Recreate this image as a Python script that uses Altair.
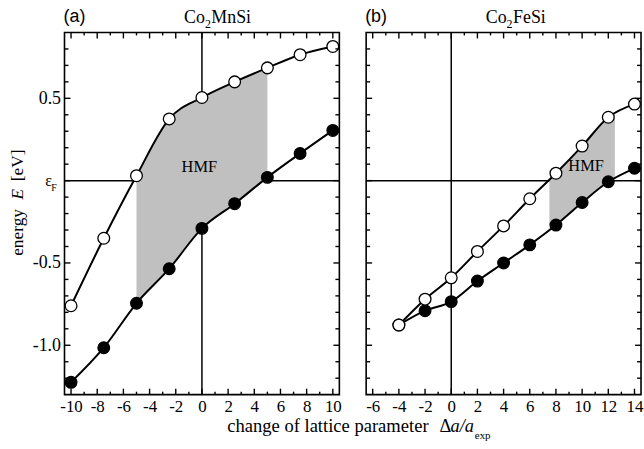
import altair as alt
import pandas as pd

SERIF = "Liberation Serif"
SANS = "Liberation Sans"

# ---------------- Co2MnSi ----------------
mn_da = [-10, -7.5, -5, -2.5, 0, 2.5, 5, 7.5, 10]
mn_open = [-0.76, -0.35, 0.03, 0.375, 0.505, 0.60, 0.685, 0.765, 0.815]
mn_filled = [-1.225, -1.015, -0.745, -0.535, -0.29, -0.14, 0.02, 0.165, 0.305]
# half-metallic window: -5 % ... +5 %
mn_hmf_da = mn_da[2:7]
mn_hmf_top = mn_open[2:7]
mn_hmf_bottom = mn_filled[2:7]

# ---------------- Co2FeSi ----------------
fe_da = [-4, -2, 0, 2, 4, 6, 8, 10, 12, 14]
fe_open = [-0.877, -0.72, -0.59, -0.43, -0.275, -0.11, 0.045, 0.21, 0.385, 0.465]
fe_filled = [-0.877, -0.79, -0.735, -0.61, -0.50, -0.39, -0.27, -0.133, -0.007, 0.075]
# half-metallic window: 7.5 % ... 12.5 %
fe_hmf_da = [7.5, 8, 10, 12, 12.5]
fe_hmf_top = [0.005, 0.045, 0.21, 0.385, 0.405]
fe_hmf_bottom = [-0.30, -0.27, -0.133, -0.007, 0.013]

# ---------------- axes ----------------
mn_xdomain = [-10.5, 10.5]
fe_xdomain = [-6.5, 14.5]
ydomain = [-1.3, 0.9]
mn_xmajor = [-10, -8, -6, -4, -2, 0, 2, 4, 6, 8, 10]
mn_xminor = [-9, -7, -5, -3, -1, 1, 3, 5, 7, 9]
fe_xmajor = [-6, -4, -2, 0, 2, 4, 6, 8, 10, 12, 14]
fe_xminor = [-5, -3, -1, 1, 3, 5, 7, 9, 11, 13]
ymajor = [-1.0, -0.5, 0.0, 0.5]
yminor = [-1.2, -1.1, -0.9, -0.8, -0.7, -0.6, -0.4, -0.3, -0.2, -0.1,
          0.1, 0.2, 0.3, 0.4, 0.6, 0.7, 0.8]
ylabel_values = [-1.0, -0.5, 0.5]

W, H = 277, 365
GAP = 27
LINE_W = 2.0
TICK_W = 1.4


def panel(da, e_open, e_filled, hmf_da, hmf_top, hmf_bot, xdomain, xmajor, xminor,
          tag, title_parts, hmf_xy, with_ylabels):
    xs = alt.Scale(domain=xdomain, nice=False, zero=False)
    ys = alt.Scale(domain=ydomain, nice=False, zero=False)
    xaxis = alt.Axis(values=xmajor,
                     labelExpr="datum.value < 0 ? '-' + abs(datum.value) : '' + datum.value",
                     ticks=False, domain=False, grid=False, labelFont=SERIF,
                     labelFontSize=17, labelColor="black", labelPadding=4,
                     labelFlush=False, labelOverlap=False)
    if with_ylabels:
        yaxis = alt.Axis(values=ylabel_values,
                         labelExpr="datum.value < 0 ? '-' + format(-datum.value, '.1f') : format(datum.value, '.1f')",
                         ticks=False, domain=False, grid=False, labelFont=SERIF,
                         labelFontSize=18, labelColor="black", labelPadding=4)
    else:
        yaxis = None

    def X(field):
        return alt.X(field, type="quantitative", scale=xs, axis=xaxis, title=None)

    def Y(field):
        return alt.Y(field, type="quantitative", scale=ys, axis=yaxis, title=None)

    curves = pd.DataFrame({"da": da, "open": e_open, "filled": e_filled})
    hmf = pd.DataFrame({"da": hmf_da, "top": hmf_top, "bot": hmf_bot})
    zero = pd.DataFrame({"v": [0.0]})

    layers = []
    # reference lines at Δa = 0 and at the Fermi energy
    layers.append(alt.Chart(zero).mark_rule(color="black", strokeWidth=1.5).encode(x=X("v")))
    layers.append(alt.Chart(zero).mark_rule(color="black", strokeWidth=1.5).encode(y=Y("v")))
    # half-metallic region
    layers.append(alt.Chart(hmf).mark_area(color="#c0c0c0", opacity=1, interpolate="monotone")
                  .encode(x=X("da"), y=Y("top"), y2="bot"))
    # band edges
    for col in ["filled", "open"]:
        layers.append(alt.Chart(curves).mark_line(color="black", strokeWidth=LINE_W,
                                                  interpolate="monotone")
                      .encode(x=X("da"), y=Y(col)))
    layers.append(alt.Chart(curves).mark_circle(size=140, fill="black", stroke="black",
                                                strokeWidth=1.2, opacity=1)
                  .encode(x=X("da"), y=Y("filled")))
    layers.append(alt.Chart(curves).mark_circle(size=140, fill="white", stroke="black",
                                                strokeWidth=1.3, opacity=1)
                  .encode(x=X("da"), y=Y("open")))

    # inward ticks on all four sides
    def xticks(vals, length):
        d = pd.DataFrame({"v": vals})
        b = alt.Chart(d).mark_rule(color="black", strokeWidth=TICK_W)
        return [b.encode(x=X("v"), y=alt.value(H), y2=alt.value(H - length)),
                b.encode(x=X("v"), y=alt.value(0), y2=alt.value(length))]

    def yticks(vals, length):
        d = pd.DataFrame({"v": vals})
        b = alt.Chart(d).mark_rule(color="black", strokeWidth=TICK_W)
        return [b.encode(y=Y("v"), x=alt.value(0), x2=alt.value(length)),
                b.encode(y=Y("v"), x=alt.value(W), x2=alt.value(W - length))]

    layers += xticks(xmajor, 6) + xticks(xminor, 3)
    layers += yticks(ymajor, 6) + yticks(yminor, 4)

    one = pd.DataFrame({"k": [0]})
    # HMF label
    hx, hy = hmf_xy
    hdf = pd.DataFrame({"da": [hx], "e": [hy], "t": ["HMF"]})
    layers.append(alt.Chart(hdf).mark_text(font=SERIF, fontSize=16.5, color="black")
                  .encode(x=X("da"), y=Y("e"), text="t:N"))

    # panel tag and compound name
    layers.append(alt.Chart(one).mark_text(font=SANS, fontSize=18, align="left",
                                           baseline="alphabetic", color="black")
                  .encode(x=alt.value(-1), y=alt.value(-11), text=alt.value(tag)))
    x0 = 120.5
    name_a, name_b = title_parts
    layers.append(alt.Chart(one).mark_text(font=SERIF, fontSize=18, align="left",
                                           baseline="alphabetic", color="black")
                  .encode(x=alt.value(x0), y=alt.value(-10), text=alt.value(name_a)))
    layers.append(alt.Chart(one).mark_text(font=SERIF, fontSize=12, align="left",
                                           baseline="alphabetic", color="black")
                  .encode(x=alt.value(x0 + 21), y=alt.value(-5), text=alt.value("2")))
    layers.append(alt.Chart(one).mark_text(font=SERIF, fontSize=18, align="left",
                                           baseline="alphabetic", color="black")
                  .encode(x=alt.value(x0 + 27.5), y=alt.value(-10), text=alt.value(name_b)))

    if with_ylabels:
        # Fermi level label
        layers.append(alt.Chart(one).mark_text(font=SERIF, fontSize=16, color="black",
                                               baseline="middle", align="center")
                      .encode(x=alt.value(-16), y=alt.Y(datum=0.0, scale=ys, axis=yaxis),
                              text=alt.value("ε")))
        layers.append(alt.Chart(one).mark_text(font=SERIF, fontSize=10, color="black",
                                               baseline="middle", align="center", dy=7)
                      .encode(x=alt.value(-10.5), y=alt.Y(datum=0.0, scale=ys, axis=yaxis),
                              text=alt.value("F")))
        # vertical axis title
        for txt, ypos, style in [("energy", 201.5, "normal"), ("E", 163, "italic"),
                                 ("[eV]", 134, "normal")]:
            layers.append(alt.Chart(one).mark_text(font=SERIF, fontSize=17.5, color="black",
                                                   angle=270, align="center",
                                                   baseline="middle", fontStyle=style)
                          .encode(x=alt.value(-47), y=alt.value(ypos), text=alt.value(txt)))
        # horizontal axis title
        layers.append(alt.Chart(one).mark_text(font=SERIF, fontSize=18.7, color="black",
                                               align="left", baseline="alphabetic")
                      .encode(x=alt.value(164), y=alt.value(H + 38),
                              text=alt.value("change of lattice parameter")))
    else:
        layers.append(alt.Chart(one).mark_text(font=SERIF, fontSize=18.5, color="black",
                                               align="left", baseline="alphabetic")
                      .encode(x=alt.value(74), y=alt.value(H + 38), text=alt.value("Δ")))
        layers.append(alt.Chart(one).mark_text(font=SERIF, fontSize=18.5, color="black",
                                               align="left", baseline="alphabetic",
                                               fontStyle="italic")
                      .encode(x=alt.value(85), y=alt.value(H + 38), text=alt.value("a/a")))
        layers.append(alt.Chart(one).mark_text(font=SERIF, fontSize=11, color="black",
                                               align="left", baseline="alphabetic")
                      .encode(x=alt.value(109.5), y=alt.value(H + 45), text=alt.value("exp")))

    return alt.layer(*layers).properties(width=W, height=H)


left = panel(mn_da, mn_open, mn_filled, mn_hmf_da, mn_hmf_top, mn_hmf_bottom,
             mn_xdomain, mn_xmajor, mn_xminor, "(a)", ("Co", "MnSi"), (-0.2, 0.08), True)
right = panel(fe_da, fe_open, fe_filled, fe_hmf_da, fe_hmf_top, fe_hmf_bottom,
              fe_xdomain, fe_xmajor, fe_xminor, "(b)", ("Co", "FeSi"), (10.3, 0.09), False)

chart = (alt.hconcat(left, right, spacing=GAP, bounds="flush")
         .properties(padding={"left": 8, "top": 5, "right": 0, "bottom": 0},
                     background="white")
         .configure_view(stroke="black", strokeWidth=1.6))

chart.save("out.html", embed_options={"renderer": "svg", "actions": False})
